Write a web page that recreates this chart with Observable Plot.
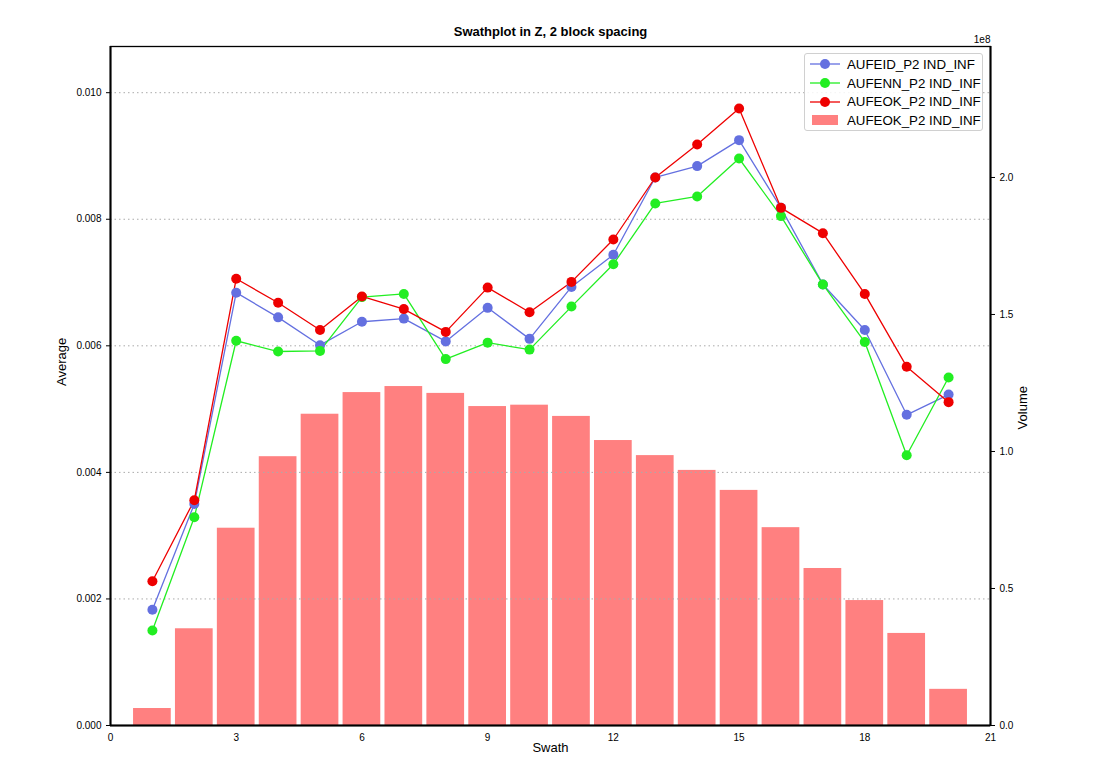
<!DOCTYPE html>
<html>
<head>
<meta charset="utf-8">
<script src="https://cdn.jsdelivr.net/npm/d3@7"></script>
<script src="https://cdn.jsdelivr.net/npm/@observablehq/plot@0.6"></script>
<style>
  body { margin: 0; background: #fff; }
  #wrap { position: relative; width: 1100px; height: 780px; font-family: "Liberation Sans", Arial, sans-serif; }
  #legend { position: absolute; left: 804px; top: 53px; width: 179px; height: 78px; border: 1px solid #d0d0d0; border-radius: 3px; background: rgba(255,255,255,0.85); box-sizing: border-box; padding-top: 1px; }
  .row { display: flex; align-items: center; height: 18.7px; font-size: 13.3px; color: #000; white-space: nowrap; }
  .row svg { margin-left: 5px; margin-right: 7px; flex: none; }
</style>
</head>
<body>
<div id="wrap"><div id="legend"></div></div>
<script>
const title = "Swathplot in Z, 2 block spacing";
const swath = [1,2,3,4,5,6,7,8,9,10,11,12,13,14,15,16,17,18,19,20];
const aufeid = [0.00183,0.00350,0.00684,0.00645,0.00601,0.00638,0.00643,0.00607,0.00660,0.00611,0.00693,0.00744,0.00866,0.00884,0.00925,0.00818,0.00697,0.00625,0.00491,0.00523];
const aufenn = [0.00150,0.00329,0.00608,0.00591,0.00592,0.00677,0.00682,0.00579,0.00605,0.00594,0.00662,0.00729,0.00825,0.00836,0.00896,0.00805,0.00697,0.00606,0.00427,0.00550];
const aufeok = [0.00228,0.00356,0.00706,0.00668,0.00625,0.00678,0.00658,0.00622,0.00692,0.00653,0.00701,0.00768,0.00866,0.00918,0.00975,0.00818,0.00778,0.00682,0.00567,0.00511];
const volume = [0.062,0.353,0.720,0.981,1.136,1.215,1.237,1.212,1.164,1.169,1.128,1.040,0.985,0.931,0.858,0.722,0.573,0.456,0.336,0.132]; // x 1e8
const xTicks = [0,3,6,9,12,15,18,21];
const avgTicks = [0,0.002,0.004,0.006,0.008,0.010];
const volTicks = [0,0.5,1.0,1.5,2.0];
const seriesNames = ["AUFEID_P2 IND_INF","AUFENN_P2 IND_INF","AUFEOK_P2 IND_INF"];
const barName = "AUFEOK_P2 IND_INF";
const colors = ["#6470e0","#22ee22","#ee0000"];
const barColor = "#ff8080";

const avgMax = 0.01073, volMax = 2.478; // axis tops
const k = avgMax / volMax;

const bars = swath.map((s,i) => ({s, v: volume[i]*k}));
const lines = [aufeid, aufenn, aufeok].flatMap((arr, j) => arr.map((v,i) => ({s: swath[i], v, series: seriesNames[j], j})));

const font = "Liberation Sans, Arial, sans-serif";
const chart = Plot.plot({
  width: 1100, height: 780,
  marginLeft: 110, marginRight: 110, marginTop: 46, marginBottom: 55,
  style: {fontFamily: font, fontSize: "10px", background: "#fff"},
  x: {domain: [0,21]},
  y: {domain: [0, avgMax]},
  marks: [
    Plot.rectY(bars, {x1: d => d.s - 0.45, x2: d => d.s + 0.45, y: "v", fill: barColor}),
    Plot.ruleY(avgTicks.slice(1), {stroke: "#aaa", strokeDasharray: "1.5,3", strokeWidth: 1}),
    ...[0,1,2].map(j => Plot.line(lines.filter(d => d.j === j), {x: "s", y: "v", stroke: colors[j], strokeWidth: 1.3})),
    ...[0,1,2].map(j => Plot.dot(lines.filter(d => d.j === j), {x: "s", y: "v", fill: colors[j], r: 5})),
    Plot.axisX(xTicks, {tickSize: 0, tickPadding: 8, label: null, fontSize: 10}),
    Plot.axisY(avgTicks, {anchor: "left", tickSize: 4, tickFormat: d3.format(".3f"), label: null, fontSize: 10}),
    Plot.axisY(volTicks.map(v => v*k), {anchor: "right", tickSize: 4, tickFormat: d => (d/k).toFixed(1), label: null, fontSize: 10}),
    Plot.frame({stroke: "#000", strokeWidth: 1.3}),
    Plot.ruleX([0, 21], {stroke: "#000", strokeWidth: 2}),
    Plot.ruleY([0], {stroke: "#000", strokeWidth: 2}),
    Plot.text([title], {frameAnchor: "top", dy: -11, fontWeight: "bold", fontSize: 13, lineAnchor: "bottom"}),
    Plot.text(["1e8"], {frameAnchor: "top-right", dy: -4, textAnchor: "end", lineAnchor: "bottom", fontSize: 10}),
    Plot.text(["Average"], {frameAnchor: "left", dx: -49, rotate: -90, fontSize: 13}),
    Plot.text(["Volume"], {frameAnchor: "right", dx: 32, rotate: -90, fontSize: 13}),
    Plot.text(["Swath"], {frameAnchor: "bottom", dy: 26, fontSize: 13})
  ]
});
document.getElementById("wrap").prepend(chart);

const leg = document.getElementById("legend");
seriesNames.forEach((n, j) => {
  const row = document.createElement("div");
  row.className = "row";
  row.innerHTML = `<svg width="30" height="14"><line x1="0" y1="7" x2="30" y2="7" stroke="${colors[j]}" stroke-width="1.3"/><circle cx="15" cy="7" r="5" fill="${colors[j]}"/></svg><span>${n}</span>`;
  leg.appendChild(row);
});
const brow = document.createElement("div");
brow.className = "row";
brow.innerHTML = `<svg width="30" height="14"><rect x="2" y="2" width="26" height="10" fill="${barColor}"/></svg><span>${barName}</span>`;
leg.appendChild(brow);
</script>
</body>
</html>
